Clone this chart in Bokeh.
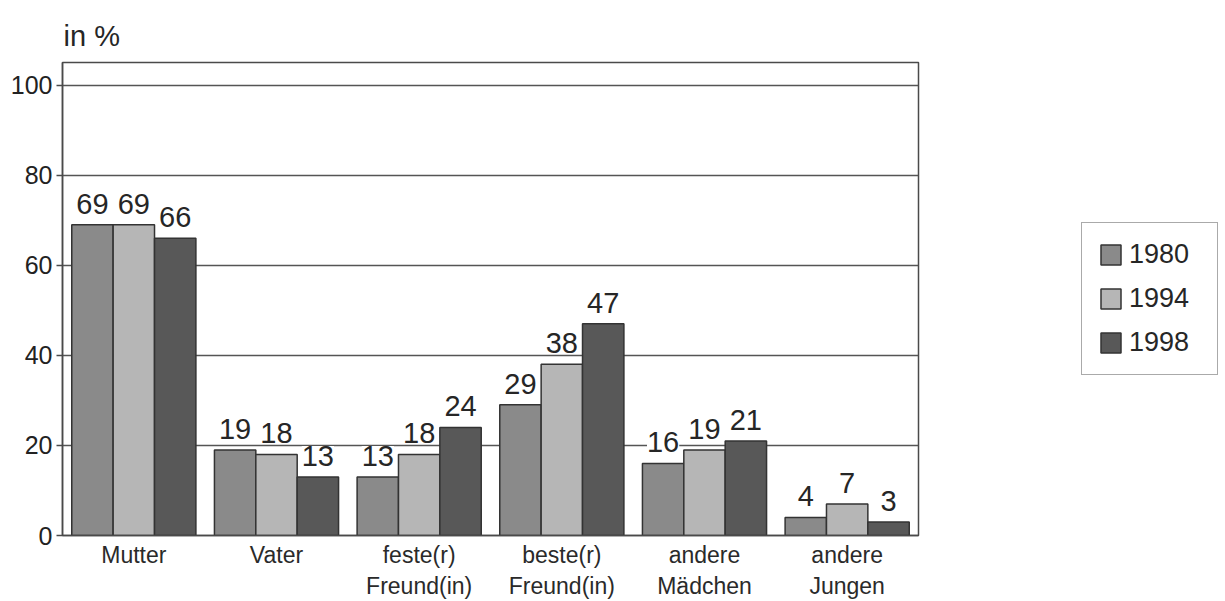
from bokeh.plotting import figure
from bokeh.layouts import row
from bokeh.models import (ColumnDataSource, FixedTicker, LabelSet,
                          Legend, LegendItem, Range1d)
from bokeh.core.properties import value
from bokeh.embed import file_html
from bokeh.resources import INLINE

# Persons to whom young people talk about personal problems (in %)
categories = ["Mutter", "Vater", "feste(r)\nFreund(in)", "beste(r)\nFreund(in)",
              "andere\nMädchen", "andere\nJungen"]
years = ["1980", "1994", "1998"]
values_1980 = [69, 19, 13, 29, 16, 4]
values_1994 = [69, 18, 18, 38, 19, 7]
values_1998 = [66, 13, 24, 47, 21, 3]
y_ticks = [0, 20, 40, 60, 80, 100]

series = [values_1980, values_1994, values_1998]
colors = ["#8a8a8a", "#b6b6b6", "#585858"]
offsets = [-0.29, 0.0, 0.29]
bar_width = 0.29

FONT = "Liberation Sans"

p = figure(width=920, height=601, output_backend="svg", toolbar_location=None,
           x_range=Range1d(-0.5, len(categories) - 0.5), y_range=Range1d(0, 105),
           min_border_left=62, min_border_right=2, min_border_top=62,
           min_border_bottom=66)
p.background_fill_color = "white"
p.border_fill_color = "white"
p.outline_line_color = "#4a4a4a"
p.outline_line_width = 1.5

# unit note above the frame
p.title.text = "in %"
p.title.align = "left"
p.title.vertical_align = "top"
p.title.text_font = FONT
p.title.text_font_size = "29px"
p.title.text_font_style = "normal"
p.title.text_color = "#262626"
p.title.standoff = 18
p.title.offset = 1

# grid
p.xgrid.visible = False
p.ygrid.ticker = FixedTicker(ticks=y_ticks)
p.ygrid.grid_line_color = "#555555"
p.ygrid.grid_line_width = 1.5

# y axis
p.yaxis.ticker = FixedTicker(ticks=y_ticks)
p.yaxis.minor_tick_line_color = None
p.yaxis.major_tick_out = 6
p.yaxis.major_tick_in = 0
p.yaxis.major_tick_line_color = "#4a4a4a"
p.yaxis.major_tick_line_width = 1.5
p.yaxis.axis_line_color = "#4a4a4a"
p.yaxis.axis_line_width = 1.5
p.yaxis.major_label_text_font = FONT
p.yaxis.major_label_text_font_size = "25px"
p.yaxis.major_label_text_color = "#222222"
p.yaxis.major_label_standoff = 4

# x axis with two-line category names
p.xaxis.ticker = FixedTicker(ticks=list(range(len(categories))))
p.xaxis.major_label_overrides = {i: c for i, c in enumerate(categories)}
p.xaxis.major_tick_line_color = None
p.xaxis.minor_tick_line_color = None
p.xaxis.axis_line_color = "#4a4a4a"
p.xaxis.axis_line_width = 1.5
p.xaxis.major_label_text_font = FONT
p.xaxis.major_label_text_font_size = "23px"
p.xaxis.major_label_text_color = "#2a2a2a"
p.xaxis.major_label_standoff = 0

# separate panel that carries the legend box on the right
side = figure(width=305, height=601, output_backend="svg", toolbar_location=None,
              x_range=Range1d(0, 1), y_range=Range1d(0, 1),
              min_border=0, outline_line_color=None)
side.axis.visible = False
side.grid.visible = False
side.background_fill_color = "white"
side.border_fill_color = "white"

items = []
for year, vals, col, off in zip(years, series, colors, offsets):
    src = ColumnDataSource(dict(
        x=[i + off for i in range(len(categories))],
        top=vals,
        label=[str(v) for v in vals],
    ))
    style = dict(x="x", top="top", width=bar_width, bottom=0, source=src,
                 fill_color=col, line_color="#333333", line_width=1.5)
    p.vbar(**style)
    swatch = side.vbar(**style)
    swatch.visible = False
    items.append(LegendItem(label=year, renderers=[swatch]))
    p.add_layout(LabelSet(x="x", y="top", text="label", source=src,
                          y_offset=11, text_align="center",
                          text_baseline="alphabetic", text_font=value(FONT),
                          text_font_size=value("29px"), text_color="#262626",
                          background_fill_color="white"))

legend = Legend(items=items, location=(161, 160), orientation="vertical",
                label_text_font=FONT, label_text_font_size="27px",
                label_text_color="#262626", glyph_width=25, glyph_height=25,
                label_standoff=6, spacing=13, padding=16, margin=0,
                label_width=72, label_height=25,
                border_line_color="#555555", border_line_width=1.5,
                background_fill_color="white")
side.add_layout(legend, "center")

layout = row(p, side, spacing=0)
open("out.html", "w").write(file_html(layout, INLINE))
